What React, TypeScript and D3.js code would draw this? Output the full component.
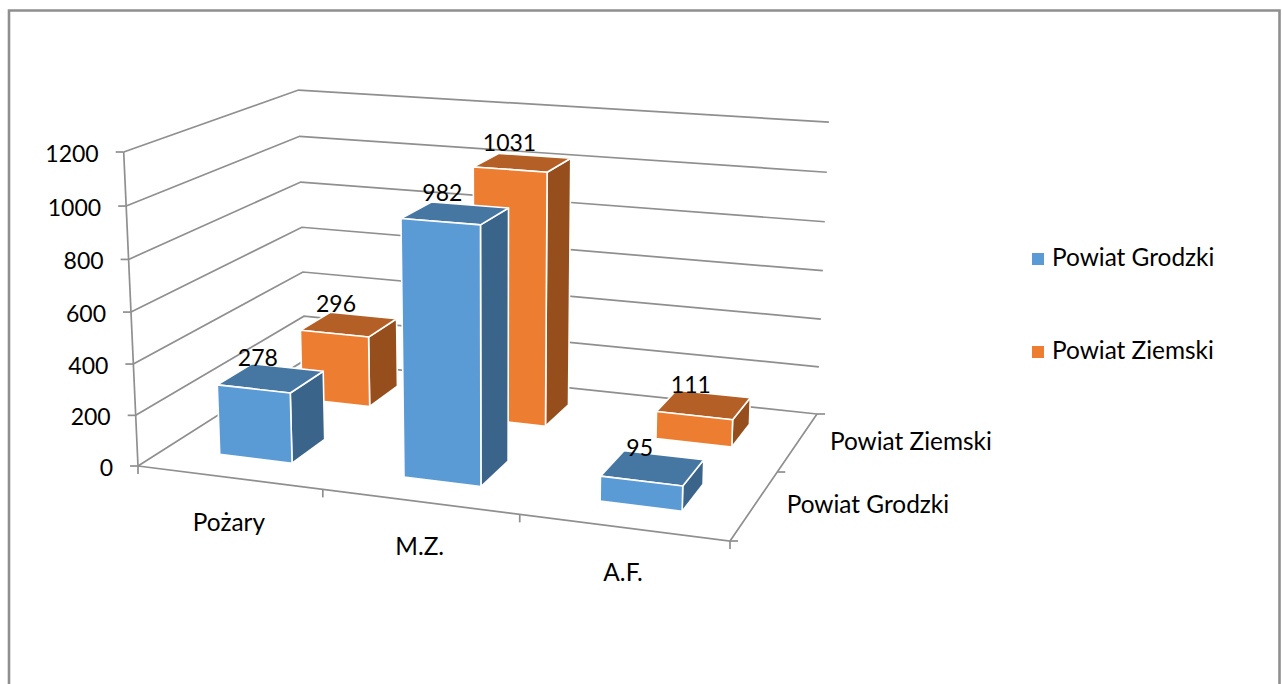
import React from "react";
import { scaleBand, scaleLinear, line } from "d3";

const categories = ["Pożary", "M.Z.", "A.F."];
const seriesNames = ["Powiat Grodzki", "Powiat Ziemski"];
const grodzkiValues = [278, 982, 95];
const ziemskiValues = [296, 1031, 111];
const valueTicks = [0, 200, 400, 600, 800, 1000, 1200];

const seriesValues = [grodzkiValues, ziemskiValues];

const WIDTH = 1282;
const HEIGHT = 684;
const GRID = "#8f8f8f";
const TEXT = "#000";
const FONT = "Lato, 'Noto Sans', sans-serif";
const LABEL_SIZE = 24.4;
const NUM_SIZE = 23;

// floor corners: front-left, front-right, back-right, back-left
type Pt = [number, number];
const floorQuad: Pt[] = [[138, 466], [730, 541], [817, 414], [305, 360]];
// where the front-left corner ends up at the top of the value axis
const axisTop: Pt = [123.7, 152];
// perspective along the vertical axis
const depthK = 1.04;

// camera: floor homography plus a vertical column
function makeCamera(q: Pt[]) {
  const [[x0, y0], [x1, y1], [x2, y2], [x3, y3]] = q;
  const dx1 = x1 - x2, dx2 = x3 - x2, sx = x0 - x1 + x2 - x3;
  const dy1 = y1 - y2, dy2 = y3 - y2, sy = y0 - y1 + y2 - y3;
  const den = dx1 * dy2 - dx2 * dy1;
  const g = (sx * dy2 - dx2 * sy) / den;
  const h = (dx1 * sy - sx * dy1) / den;
  const a = x1 - x0 + g * x1, b = x3 - x0 + h * x3;
  const d = y1 - y0 + g * y1, e = y3 - y0 + h * y3;
  const s = (1 - depthK) / depthK;
  const p = axisTop[0] * (1 + s) - x0;
  const r = axisTop[1] * (1 + s) - y0;
  return (u: number, v: number, t: number): Pt => {
    const w = g * u + h * v + s * t + 1;
    return [(a * u + b * v + p * t + x0) / w, (d * u + e * v + r * t + y0) / w];
  };
}

const camera = makeCamera(floorQuad);

const heightScale = scaleLinear().domain([0, 1200]).range([0, 1]);
const catScale = scaleBand<string>().domain(categories).range([0, 1]).paddingInner(0.6).paddingOuter(0.3);
const serScale = scaleBand<string>().domain(seriesNames).range([0, 1]).paddingInner(0.6).paddingOuter(0.3);
const catStep = catScale.step();
const serStep = serScale.step();

const project = (u: number, v: number, value: number): Pt => camera(u, v, heightScale(value));

const toPath = line<Pt>();
const closed = (pts: Pt[]) => toPath(pts) + "Z";

const colors = [
  { front: "#5b9bd5", top: "#4676a2", side: "#3a6489" },
  { front: "#ed7d31", top: "#b45f25", side: "#964f1c" },
];

function Bar({ u0, v0, value, color }: { u0: number; v0: number; value: number; color: typeof colors[0] }) {
  const u1 = u0 + catScale.bandwidth();
  const v1 = v0 + serScale.bandwidth();
  const faces = [
    { fill: color.side, pts: [project(u1, v0, 0), project(u1, v1, 0), project(u1, v1, value), project(u1, v0, value)] },
    { fill: color.top, pts: [project(u0, v0, value), project(u1, v0, value), project(u1, v1, value), project(u0, v1, value)] },
    { fill: color.front, pts: [project(u0, v0, 0), project(u1, v0, 0), project(u1, v0, value), project(u0, v0, value)] },
  ];
  return (
    <g>
      {faces.map((f, i) => (
        <path key={i} d={closed(f.pts)} fill={f.fill} stroke="#fff" strokeWidth={1.6} strokeLinejoin="round" />
      ))}
    </g>
  );
}

export default function App() {
  // back row first so the front row paints over it
  const bars = [1, 0].flatMap((s) =>
    categories.map((cat, i) => ({
      key: seriesNames[s] + cat,
      u0: catScale(cat) as number,
      v0: serScale(seriesNames[s]) as number,
      value: seriesValues[s][i],
      color: colors[s],
    }))
  );

  return (
    <svg width={WIDTH} height={HEIGHT} style={{ position: "absolute", left: 0, top: 0 }} fontFamily={FONT}>
      <rect width={WIDTH} height={HEIGHT} fill="#fff" />
      <path d="M9 700V10.5H1279.5V700" fill="none" stroke={GRID} strokeWidth={2.6} />

      {/* walls */}
      <g fill="none" stroke={GRID} strokeWidth={1.7}>
        {valueTicks.map((t) => {
          const fl = project(0, 0, t);
          const bl = project(0, 1, t);
          const br = project(1, 1, t);
          return (
            <g key={t}>
              <path d={toPath([fl, bl, br]) as string} />
              <path d={toPath([[fl[0] - 8, fl[1]], fl]) as string} />
            </g>
          );
        })}
        <path d={toPath([project(0, 0, 1200), project(0, 0, 0)]) as string} />
        <path d={toPath([project(0, 0, 0), project(1, 0, 0), project(1, 1, 0)]) as string} />
        {[0, 1, 2, 3].map((i) => {
          const p = project(i * catStep, 0, 0);
          return <path key={i} d={toPath([p, [p[0], p[1] + 8]]) as string} />;
        })}
        {[0, 1, 2].map((i) => {
          const p = project(1, i * serStep, 0);
          return <path key={i} d={toPath([p, [p[0] + 8, p[1]]]) as string} />;
        })}
      </g>

      {bars.map(({ key, ...b }) => (
        <Bar key={key} {...b} />
      ))}

      {/* value axis */}
      <g fontSize={NUM_SIZE} fill={TEXT} textAnchor="end" dominantBaseline="central">
        {valueTicks.map((t) => {
          const p = project(0, 0, t);
          return (
            <text key={t} x={p[0] - 25} y={p[1] + 1}>
              {t}
            </text>
          );
        })}
      </g>

      {/* category axis */}
      <g fontSize={LABEL_SIZE} fill={TEXT} textAnchor="middle" dominantBaseline="central">
        {categories.map((cat) => {
          const p = project((catScale(cat) as number) + catScale.bandwidth() / 2, 0, 0);
          return (
            <text key={cat} x={p[0]} y={p[1] + 44}>
              {cat}
            </text>
          );
        })}
      </g>

      {/* series axis */}
      <g fontSize={LABEL_SIZE} fill={TEXT} dominantBaseline="central">
        {seriesNames.map((name) => {
          const p = project(1, (serScale(name) as number) + serScale.bandwidth() / 2, 0);
          return (
            <text key={name} x={p[0] + 32} y={p[1] - 1}>
              {name}
            </text>
          );
        })}
      </g>

      {/* data labels */}
      <g fontSize={NUM_SIZE} fill={TEXT} textAnchor="middle" dominantBaseline="central">
        {bars.map((b) => {
          const p = project(b.u0 + catScale.bandwidth() / 2, b.v0 + serScale.bandwidth() / 2, b.value);
          return (
            <text key={b.key} x={p[0] - 13} y={p[1] - 21}>
              {b.value}
            </text>
          );
        })}
      </g>

      {/* legend */}
      <g fontSize={LABEL_SIZE} fill={TEXT} dominantBaseline="central">
        {seriesNames.map((name, i) => (
          <g key={name} transform={`translate(1032,${253 + i * 93})`}>
            <rect width={12} height={12} fill={colors[i].front} />
            <text x={20} y={3.5}>
              {name}
            </text>
          </g>
        ))}
      </g>
    </svg>
  );
}
